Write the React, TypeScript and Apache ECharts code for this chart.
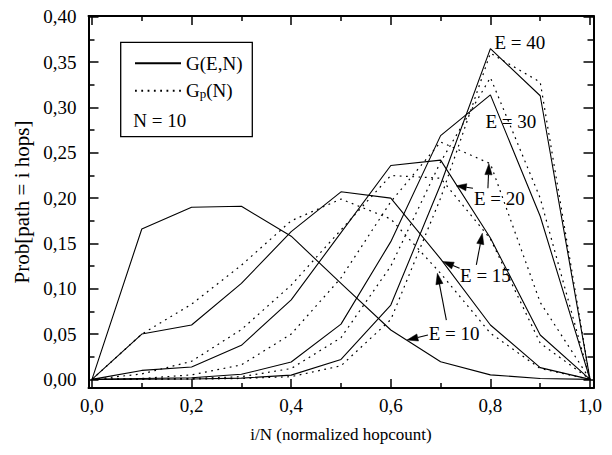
import { useEffect, useRef } from 'react';
import * as echarts from 'echarts';

// ---- data ----
const hops = [0, 0.1, 0.2, 0.3, 0.4, 0.5, 0.6, 0.7, 0.8, 0.9, 1.0];

// G(E,N) solid curves
const gE10 = [0, 0.166, 0.190, 0.191, 0.158, 0.106, 0.0545, 0.0195, 0.005, 0.001, 0];
const gE15 = [0, 0.050, 0.060, 0.106, 0.163, 0.207, 0.200, 0.133, 0.060, 0.013, 0];
const gE20 = [0, 0.0099, 0.0136, 0.0376, 0.0877, 0.162, 0.236, 0.242, 0.156, 0.049, 0];
const gE30 = [0, 0.001, 0.0018, 0.0056, 0.0192, 0.061, 0.152, 0.269, 0.314, 0.180, 0];
const gE40 = [0, 0.0002, 0.0005, 0.0014, 0.0047, 0.022, 0.082, 0.215, 0.365, 0.313, 0];

// Gp(N) dotted curves
const gpE10 = [0, 0.050, 0.083, 0.126, 0.175, 0.199, 0.177, 0.117, 0.051, 0.012, 0];
const gpE15 = [0, 0.006, 0.020, 0.055, 0.104, 0.165, 0.225, 0.222, 0.155, 0.040, 0];
const gpE20 = [0, 0.001, 0.005, 0.016, 0.050, 0.112, 0.196, 0.262, 0.238, 0.085, 0];
const gpE30 = [0, 0.0003, 0.001, 0.003, 0.012, 0.046, 0.125, 0.240, 0.333, 0.200, 0];
const gpE40 = [0, 0.0001, 0.0003, 0.001, 0.003, 0.015, 0.066, 0.200, 0.360, 0.328, 0];

const xMajorTicks = [0, 0.2, 0.4, 0.6, 0.8, 1.0];
const xMinorTicks = [0.1, 0.3, 0.5, 0.7, 0.9];
const yMajorTicks = [0, 0.05, 0.1, 0.15, 0.2, 0.25, 0.3, 0.35, 0.4];
const yMinorTicks = [0.025, 0.075, 0.125, 0.175, 0.225, 0.275, 0.325, 0.375];

const curveLabels = [
  { text: 'E = 40', at: [0.808, 0.372] },
  { text: 'E = 30', at: [0.790, 0.285] },
  { text: 'E = 20', at: [0.767, 0.200] },
  { text: 'E = 15', at: [0.739, 0.115] },
  { text: 'E = 10', at: [0.676, 0.051] },
];
const labelArrows = [
  { from: [0.765, 0.211], to: [0.7315, 0.2136] },
  { from: [0.795, 0.211], to: [0.797, 0.238] },
  { from: [0.738, 0.1227], to: [0.7047, 0.130] },
  { from: [0.7717, 0.1263], to: [0.7838, 0.1613] },
  { from: [0.6746, 0.049], to: [0.6325, 0.0434] },
  { from: [0.7115, 0.0655], to: [0.6935, 0.1171] },
];

// ---- layout ----
const W = 612;
const H = 455;
const FONT = 'serif';
const X_RANGE = { min: -0.007, max: 1.007 };
const Y_RANGE = { min: -0.0095, max: 0.401 };

const fmtX = (v: number) => (Math.round(v * 10) / 10).toFixed(1).replace('.', ',');
const fmtY = (v: number) => (Math.round(v * 100) / 100).toFixed(2).replace('.', ',');

function xAxisDef(position: string, ticks: number[], len: number, line: boolean, labels: boolean, extra: any = {}) {
  return {
    type: 'value',
    position,
    ...X_RANGE,
    axisLine: { show: line, onZero: false, lineStyle: { color: '#000', width: 2 } },
    axisTick: { show: true, inside: true, length: len, customValues: ticks, lineStyle: { color: '#000', width: 1.5 } },
    axisLabel: labels
      ? { show: true, customValues: ticks, margin: 8, fontSize: 19, color: '#000', fontFamily: FONT, formatter: fmtX }
      : { show: false },
    splitLine: { show: false },
    ...extra,
  };
}

function yAxisDef(position: string, ticks: number[], len: number, line: boolean, labels: boolean, extra: any = {}) {
  return {
    type: 'value',
    position,
    ...Y_RANGE,
    axisLine: { show: line, onZero: false, lineStyle: { color: '#000', width: 2 } },
    axisTick: { show: true, inside: true, length: len, customValues: ticks, lineStyle: { color: '#000', width: 1.5 } },
    axisLabel: labels
      ? { show: true, customValues: ticks, margin: 12, fontSize: 19, color: '#000', fontFamily: FONT, formatter: fmtY }
      : { show: false },
    splitLine: { show: false },
    ...extra,
  };
}

const solidSets = [gE10, gE15, gE20, gE30, gE40];
const dottedSets = [gpE10, gpE15, gpE20, gpE30, gpE40];

function buildOption() {
  const series: any[] = [];
  solidSets.forEach((ys) => {
    series.push({
      type: 'line',
      name: 'G(E,N)',
      data: hops.map((x, i) => [x, ys[i]]),
      symbol: 'none',
      silent: true,
      lineStyle: { color: '#000', width: 1.1, type: 'solid' },
      itemStyle: { color: '#000' },
    });
  });
  dottedSets.forEach((ys) => {
    series.push({
      type: 'line',
      name: 'Gp(N)',
      data: hops.map((x, i) => [x, ys[i]]),
      symbol: 'none',
      silent: true,
      lineStyle: { color: '#000', width: 1.2, type: [1.8, 4.5] },
      itemStyle: { color: '#000' },
    });
  });

  return {
    animation: false,
    backgroundColor: '#fff',
    textStyle: { fontFamily: FONT, color: '#000' },
    grid: { left: 88.5, right: W - 593.5, top: 16, bottom: H - 388, containLabel: false },
    legend: {
      orient: 'vertical',
      left: 134,
      top: 53.8,
      padding: 0,
      itemGap: 8.4,
      itemWidth: 46,
      itemHeight: 14,
      selectedMode: false,
      data: ['G(E,N)', 'Gp(N)'],
      itemStyle: { opacity: 0 },
      formatter: (name: string) => (name === 'Gp(N)' ? '{m|G}{s|p}{m|(N)}' : '{m|' + name + '}'),
      textStyle: {
        color: '#000',
        fontFamily: FONT,
        fontSize: 19,
        rich: {
          m: { fontSize: 19, lineHeight: 19, fontFamily: FONT, color: '#000' },
          s: { fontSize: 13, lineHeight: 9, verticalAlign: 'bottom', fontFamily: FONT, color: '#000' },
        },
      },
    },
    xAxis: [
      xAxisDef('bottom', xMajorTicks, 9, true, true, {
        name: 'i/N (normalized hopcount)',
        nameLocation: 'middle',
        nameGap: 38,
        nameTextStyle: { fontSize: 17, color: '#000', fontFamily: FONT },
      }),
      xAxisDef('bottom', xMinorTicks, 5, false, false),
      xAxisDef('top', xMajorTicks, 9, true, false),
      xAxisDef('top', xMinorTicks, 5, false, false),
    ],
    yAxis: [
      yAxisDef('left', yMajorTicks, 10, true, true, {
        name: 'Prob[path = i hops]',
        nameLocation: 'middle',
        nameGap: 54,
        nameTextStyle: { fontSize: 21, color: '#000', fontFamily: FONT },
      }),
      yAxisDef('left', yMinorTicks, 6, false, false),
      yAxisDef('right', yMajorTicks, 10, true, false),
      yAxisDef('right', yMinorTicks, 6, false, false),
    ],
    series,
  };
}

function buildGraphics(toPx: (p: number[]) => number[]) {
  const els: any[] = [];
  els.push({
    type: 'rect',
    shape: { x: 120.7, y: 42.3, width: 131.6, height: 94.4 },
    style: { fill: 'none', stroke: '#000', lineWidth: 1.3 },
    silent: true,
  });
  els.push({
    type: 'text',
    x: 133.3,
    y: 120.7,
    style: { text: 'N = 10', fill: '#000', fontSize: 19, fontFamily: FONT, verticalAlign: 'middle' },
    silent: true,
  });
  curveLabels.forEach((l) => {
    const [x, y] = toPx(l.at);
    els.push({
      type: 'text',
      x,
      y,
      style: { text: l.text, fill: '#000', fontSize: 19, fontFamily: FONT, verticalAlign: 'middle' },
      silent: true,
    });
  });
  labelArrows.forEach((a) => {
    const [x1, y1] = toPx(a.from);
    const [x2, y2] = toPx(a.to);
    const dx = x2 - x1;
    const dy = y2 - y1;
    const len = Math.sqrt(dx * dx + dy * dy) || 1;
    const ux = dx / len;
    const uy = dy / len;
    const headLen = Math.min(11, len * 0.6);
    const headHalf = 3.6;
    const bx = x2 - ux * headLen;
    const by = y2 - uy * headLen;
    els.push({
      type: 'line',
      shape: { x1, y1, x2: bx, y2: by },
      style: { stroke: '#000', lineWidth: 1.1 },
      silent: true,
    });
    els.push({
      type: 'polygon',
      shape: {
        points: [
          [x2, y2],
          [bx - uy * headHalf, by + ux * headHalf],
          [bx + uy * headHalf, by - ux * headHalf],
        ],
      },
      style: { fill: '#000', stroke: '#000', lineWidth: 0.5 },
      silent: true,
    });
  });
  return els;
}

export default function App() {
  const ref = useRef<HTMLDivElement>(null);
  useEffect(() => {
    const el = ref.current as HTMLDivElement;
    const chart = echarts.init(el, null, { renderer: 'svg', width: W, height: H });
    chart.setOption(buildOption() as any);
    const toPx = (p: number[]) => chart.convertToPixel({ gridIndex: 0 } as any, p) as number[];
    chart.setOption({ graphic: buildGraphics(toPx) } as any);
    return () => {
      chart.dispose();
    };
  }, []);
  return <div ref={ref} style={{ position: 'absolute', left: 0, top: 0, width: W, height: H }} />;
}
